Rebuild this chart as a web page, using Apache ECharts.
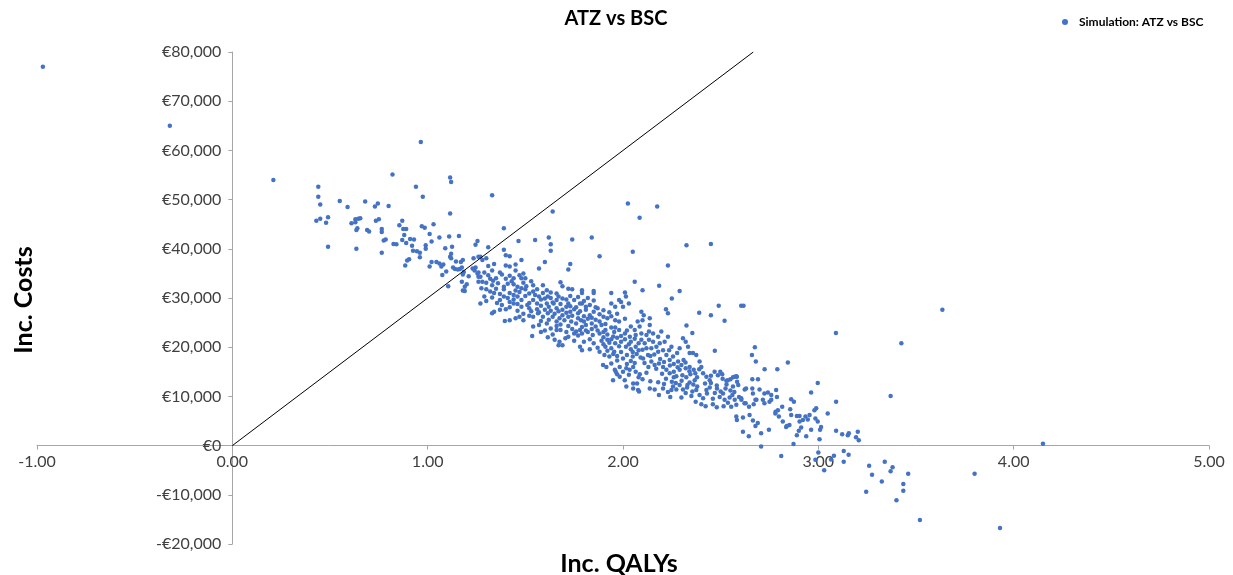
<!DOCTYPE html>
<html>
<head>
<meta charset="utf-8">
<title>ATZ vs BSC</title>
<script src="https://cdn.jsdelivr.net/npm/echarts@6/dist/echarts.min.js"></script>
<style>
  html, body { margin: 0; padding: 0; background: #fff; }
  #chart { width: 1233px; height: 575px; }
</style>
</head>
<body>
<div id="chart"></div>
<script>
// simulation points: [inc. QALYs, inc. costs in thousand euro]
var farLeft = [[-0.97, 77.0], [-0.32, 65.0], [0.21, 54.0]];

var leftCloud = [
  [0.44, 52.6], [0.44, 50.6], [0.45, 49.0], [0.43, 45.7], [0.45, 46.1], [0.48, 45.3], [0.49, 46.4], [0.49, 40.4],
  [0.55, 49.7], [0.59, 48.5], [0.61, 45.2], [0.63, 46.0], [0.645, 46.1], [0.655, 46.2], [0.63, 45.4], [0.64, 44.2],
  [0.635, 43.8], [0.68, 49.6], [0.69, 43.8], [0.70, 43.5], [0.73, 48.6], [0.745, 49.2], [0.735, 45.7], [0.75, 46.0],
  [0.765, 44.0], [0.765, 43.4], [0.635, 40.0], [0.765, 39.2], [0.775, 41.7], [0.785, 41.9], [0.80, 48.7], [0.82, 55.1],
  [0.825, 41.0], [0.84, 40.9], [0.855, 44.8], [0.87, 45.7], [0.875, 44.0], [0.89, 44.0], [0.87, 41.8], [0.88, 42.8],
  [0.91, 42.0], [0.93, 41.9], [0.89, 41.2], [0.92, 40.6], [0.925, 39.6], [0.945, 39.5], [0.905, 37.9], [0.895, 37.6],
  [0.885, 36.6], [0.96, 39.2], [0.96, 38.3], [0.99, 40.0], [0.94, 52.6], [0.97, 44.6], [0.985, 44.3], [0.965, 61.7],
  [0.975, 50.6], [1.03, 45.0], [1.01, 43.0], [1.02, 41.5], [0.99, 40.7], [1.06, 42.3], [1.11, 42.5], [1.16, 42.6],
  [1.125, 40.4], [1.09, 40.1], [1.01, 36.4], [1.02, 37.3], [1.045, 37.3], [1.07, 36.4], [1.06, 37.0], [1.08, 36.8],
  [1.075, 34.7], [1.095, 35.4], [1.115, 38.4], [1.12, 39.0], [1.12, 38.1], [1.145, 37.4], [1.13, 36.2], [1.14, 35.9],
  [1.155, 35.8], [1.165, 35.9], [1.175, 36.2], [1.17, 37.3], [1.18, 37.7], [1.185, 35.3], [1.18, 34.8], [1.19, 32.3],
  [1.19, 31.4], [1.175, 33.3], [1.105, 32.4], [1.20, 32.8], [1.21, 34.4], [1.235, 38.1], [1.245, 40.8], [1.255, 41.6],
  [1.26, 38.4], [1.115, 54.5], [1.12, 53.6], [1.115, 47.2], [1.33, 50.9], [1.64, 47.6], [1.18, 31.5], [1.23, 36.0],
  [1.245, 36.2], [1.24, 35.6], [1.255, 35.0], [1.26, 35.2], [1.26, 34.3], [1.26, 33.3], [1.39, 44.2], [1.465, 41.6],
  [1.55, 41.8], [1.62, 42.3], [1.74, 41.9], [1.31, 40.3], [1.39, 39.8], [1.63, 40.9]
];

var midCloud = [
  [1.40, 38.7], [1.42, 38.5], [1.63, 39.6], [1.88, 38.5], [2.05, 39.4], [1.48, 37.7], [1.40, 36.6], [1.42, 36.4],
  [1.45, 36.8], [1.60, 37.3], [1.57, 36.0], [1.73, 36.9], [1.72, 35.8], [1.30, 38.1], [1.28, 37.7], [1.27, 38.4],
  [1.33, 35.6], [1.37, 35.2], [1.45, 35.6], [1.49, 35.0], [1.48, 34.0], [1.44, 34.0], [1.42, 34.5], [1.40, 33.9],
  [1.28, 33.3], [1.30, 33.1], [1.335, 33.5], [1.35, 34.0], [1.32, 33.9], [1.27, 34.3], [1.39, 32.3], [1.39, 31.8],
  [1.44, 32.8], [1.46, 32.3], [1.49, 33.1], [1.505, 32.4], [1.54, 32.6], [1.59, 32.6], [1.68, 33.2], [1.69, 32.4],
  [1.72, 31.9], [1.74, 31.8], [1.79, 31.6], [1.79, 31.0], [1.85, 31.4], [1.85, 31.0], [1.94, 31.0], [2.01, 31.1],
  [2.015, 30.3], [2.06, 33.3], [2.03, 28.9], [1.98, 29.6], [1.99, 29.2], [1.96, 28.2], [2.0, 28.2], [1.94, 28.9],
  [1.85, 29.5], [1.87, 27.9], [1.83, 28.6], [1.79, 28.9], [1.78, 28.9], [1.75, 29.6], [1.71, 29.7], [1.72, 28.9],
  [1.67, 30.3], [1.66, 29.6], [1.645, 28.9], [1.63, 31.1], [1.615, 30.3], [1.59, 31.0], [1.57, 30.3], [1.54, 31.3],
  [1.54, 29.6], [1.52, 29.0], [1.50, 30.4], [1.48, 29.6], [1.46, 30.3], [1.44, 30.6], [1.42, 31.0], [1.41, 30.0],
  [1.39, 30.3], [1.37, 29.6], [1.355, 29.0], [1.34, 31.0], [1.32, 31.3], [1.30, 31.8], [1.275, 32.0], [1.27, 28.9],
  [1.29, 30.3], [1.44, 28.9], [1.46, 28.8], [1.48, 28.2], [1.42, 28.1], [1.40, 27.7], [1.37, 27.6], [1.34, 27.2],
  [1.33, 26.9], [1.52, 27.9], [1.56, 27.7], [1.58, 28.4], [1.61, 28.9], [1.62, 28.2], [1.66, 27.9], [1.69, 27.6],
  [1.71, 28.2], [1.73, 27.2], [1.75, 27.7], [1.77, 26.9], [1.81, 27.6], [1.83, 26.5], [1.85, 27.2], [1.88, 26.7],
  [1.90, 26.2], [1.92, 25.9], [1.94, 26.3], [1.96, 25.5], [1.98, 25.2], [2.01, 25.8], [2.04, 24.2], [2.06, 23.5],
  [2.075, 25.2], [1.49, 25.5], [1.47, 26.2], [1.45, 25.9], [1.42, 25.5], [1.395, 25.3], [1.54, 26.2], [1.565, 26.9],
  [1.59, 26.2], [1.615, 26.9], [1.64, 26.2], [1.66, 25.2], [1.675, 25.9], [1.70, 25.5], [1.72, 26.2], [1.735, 25.2],
  [1.76, 24.8], [1.785, 25.5], [1.80, 25.2], [1.81, 24.5], [1.84, 24.8], [1.86, 24.2], [1.89, 24.5], [1.91, 23.5],
  [1.94, 24.0], [1.955, 23.1], [1.98, 23.5], [2.01, 22.8], [2.035, 22.1], [2.065, 22.5], [1.54, 24.2], [1.57, 24.5],
  [1.61, 24.8], [1.63, 23.8], [1.66, 23.5], [1.68, 23.5], [1.71, 23.1], [1.72, 22.1], [1.75, 22.8], [1.78, 23.5],
  [1.79, 22.8], [1.82, 23.1], [1.845, 22.5], [1.88, 22.8], [1.90, 22.0], [1.92, 21.5], [1.94, 21.6], [1.96, 20.8],
  [1.99, 21.1], [2.015, 20.1], [2.04, 19.6], [2.065, 20.1], [2.08, 19.4], [1.535, 22.3], [1.58, 23.1], [1.615, 22.0],
  [1.65, 21.5], [1.675, 21.1], [1.705, 21.8], [1.67, 20.4], [1.69, 20.4], [1.78, 20.1], [1.79, 19.4], [1.83, 19.6],
  [1.85, 20.8], [1.88, 19.1], [1.905, 18.4], [1.93, 18.1], [1.955, 19.1], [1.97, 18.2], [2.0, 17.7], [2.02, 18.4],
  [2.05, 18.1], [1.94, 19.8], [1.91, 20.1], [1.90, 20.6]
];

var centreCloud = [
  [2.49, 28.4], [2.605, 28.4], [2.617, 28.4], [2.39, 27.0], [2.45, 26.5], [2.52, 25.4], [2.22, 27.7], [2.23, 26.9],
  [2.325, 24.4], [2.355, 22.9], [2.47, 19.3], [2.675, 20.0], [2.66, 18.4], [2.68, 17.1], [2.137, 24.5], [2.133, 23.2],
  [2.10, 25.5], [2.085, 24.2], [2.23, 22.1], [2.213, 21.1], [2.188, 20.8], [2.171, 20.1], [2.154, 21.1], [2.145, 19.8],
  [2.18, 19.1], [2.307, 21.8], [2.321, 21.1], [2.333, 20.1], [2.341, 18.8], [2.358, 18.8], [2.375, 18.4], [2.29, 19.8],
  [2.277, 18.8], [2.256, 18.1], [2.239, 17.4], [2.282, 17.1], [2.299, 16.4], [2.321, 15.7], [2.341, 16.0], [2.362, 15.4],
  [2.392, 17.1], [2.401, 16.0], [2.41, 14.7], [2.103, 17.7], [2.128, 18.4], [2.145, 17.1], [2.162, 16.4], [2.184, 16.7],
  [2.205, 16.0], [2.222, 15.4], [2.239, 14.7], [2.26, 15.0], [2.273, 14.1], [2.29, 15.4], [2.304, 14.3], [2.324, 13.9],
  [2.345, 14.5], [2.367, 13.3], [2.379, 13.9], [2.427, 14.0], [2.444, 13.3], [2.469, 15.0], [2.486, 14.3], [2.508, 14.5],
  [2.529, 13.2], [2.55, 13.5], [2.563, 13.9], [2.58, 14.1], [2.584, 13.0], [2.662, 13.5], [2.691, 13.5], [2.052, 16.0],
  [2.065, 15.0], [2.086, 14.5], [2.072, 12.6], [2.082, 11.0], [2.052, 12.6], [1.963, 15.0], [1.97, 14.5], [2.137, 11.6],
  [2.162, 11.4], [2.184, 10.3], [2.205, 11.6], [2.23, 10.9], [2.248, 11.3], [2.256, 12.0], [2.273, 11.4], [2.29, 12.3],
  [2.307, 11.4], [2.328, 11.8], [2.341, 12.8], [2.355, 11.0], [2.242, 9.9], [2.299, 9.8], [2.321, 10.7], [2.375, 11.3],
  [2.392, 10.3], [2.41, 9.6], [2.427, 11.3], [2.444, 11.8], [2.47, 10.7], [2.481, 11.6], [2.495, 9.9], [2.512, 10.6],
  [2.525, 11.6], [2.546, 9.8], [2.56, 10.3], [2.572, 9.3], [2.594, 9.9], [2.372, 8.9], [2.401, 8.4], [2.423, 8.0],
  [2.46, 8.4], [2.515, 8.0], [2.537, 8.7], [2.554, 7.9], [2.606, 9.3], [2.628, 8.6], [2.645, 7.9], [2.669, 8.4],
  [2.683, 9.3], [2.623, 11.4], [2.662, 11.6], [2.12, 22.5], [2.154, 22.8], [2.18, 22.1], [2.196, 23.2], [2.094, 21.5],
  [2.111, 20.8], [2.133, 21.5], [2.205, 19.4], [2.236, 19.4], [2.248, 20.1], [2.222, 18.4], [2.094, 27.2], [2.106, 26.5],
  [2.137, 25.9], [2.094, 22.8], [1.898, 16.4], [1.915, 16.0], [1.94, 16.7], [1.958, 15.4], [1.983, 16.0], [2.0, 15.0],
  [2.017, 15.7], [2.034, 15.4], [1.983, 14.0], [2.009, 13.3], [1.949, 13.3], [2.052, 11.6], [2.077, 11.3], [2.017, 12.0]
];

// extra points in the densest part of the band, where marks overlap
var denseBand = [
  [1.29, 35.2], [1.31, 34.6], [1.33, 32.6], [1.35, 31.9], [1.36, 33.0], [1.38, 34.8], [1.31, 36.5], [1.34, 36.9],
  [1.37, 30.8], [1.30, 29.4], [1.38, 28.6], [1.33, 30.1], [1.41, 32.9], [1.43, 33.4], [1.45, 31.5], [1.47, 31.2],
  [1.48, 32.0], [1.50, 31.8], [1.52, 30.9], [1.53, 33.4], [1.44, 29.7], [1.46, 27.4], [1.51, 28.6], [1.53, 27.3],
  [1.47, 34.6], [1.50, 34.0], [1.42, 29.2], [1.55, 30.6], [1.49, 26.8], [1.52, 26.4], [1.56, 31.8], [1.58, 29.7],
  [1.60, 29.9], [1.61, 31.6], [1.63, 30.0], [1.64, 29.1], [1.66, 30.9], [1.68, 28.8], [1.69, 29.9], [1.57, 27.1],
  [1.60, 27.6], [1.62, 25.6], [1.65, 26.8], [1.67, 27.3], [1.69, 26.5], [1.58, 25.3], [1.63, 27.4], [1.56, 28.9],
  [1.68, 24.6], [1.60, 23.4], [1.64, 22.6], [1.66, 24.3], [1.71, 27.0], [1.73, 28.3], [1.74, 26.4], [1.76, 28.1],
  [1.77, 25.9], [1.78, 27.3], [1.80, 26.3], [1.81, 28.2], [1.82, 25.8], [1.84, 26.0], [1.72, 24.3], [1.74, 23.7],
  [1.76, 23.2], [1.77, 22.4], [1.79, 24.1], [1.81, 23.4], [1.83, 21.6], [1.84, 23.7], [1.73, 30.4], [1.77, 30.2],
  [1.80, 29.4], [1.82, 30.0], [1.75, 21.3], [1.80, 21.1], [1.86, 25.6], [1.87, 23.4], [1.88, 25.2], [1.89, 21.3],
  [1.90, 23.1], [1.91, 24.7], [1.92, 22.6], [1.93, 20.9], [1.95, 22.2], [1.96, 24.0], [1.97, 21.9], [1.98, 20.2],
  [1.99, 22.3], [1.87, 19.9], [1.92, 19.3], [1.95, 18.6], [1.97, 17.3], [1.99, 19.0], [1.86, 28.1], [1.90, 27.5],
  [1.93, 27.1], [1.97, 26.8], [2.01, 21.6], [2.02, 23.4], [2.03, 20.6], [2.04, 21.1], [2.05, 19.0], [2.06, 21.7],
  [2.07, 18.6], [2.08, 20.8], [2.09, 17.9], [2.10, 19.5], [2.11, 16.8], [2.12, 19.8], [2.13, 16.0], [2.14, 18.2],
  [2.02, 16.6], [2.04, 17.2], [2.06, 16.8], [2.08, 13.9], [2.10, 13.5], [2.12, 14.8], [2.14, 13.1], [2.03, 14.4],
  [2.16, 18.5], [2.17, 15.6], [2.19, 17.6], [2.20, 14.6], [2.21, 17.0], [2.22, 13.6], [2.24, 16.3], [2.25, 13.0],
  [2.26, 16.6], [2.27, 12.7], [2.28, 15.9], [2.30, 13.2], [2.31, 17.4], [2.33, 12.3], [2.34, 15.1], [2.36, 12.4],
  [2.37, 14.7], [2.38, 12.0], [2.39, 15.5], [2.18, 12.9], [2.21, 12.5], [2.26, 13.9], [2.32, 16.9], [2.35, 10.1],
  [2.42, 12.6], [2.43, 10.6], [2.45, 12.7], [2.46, 9.5], [2.48, 12.2], [2.50, 11.0], [2.52, 9.3], [2.53, 12.4],
  [2.55, 11.2], [2.57, 10.9], [2.59, 12.3], [2.45, 14.2], [2.51, 13.6], [2.48, 7.8], [2.58, 8.3]
];

var lowerCloud = [
  [2.725, 15.5], [2.79, 15.5], [2.844, 16.9], [2.699, 11.4], [2.724, 10.6], [2.742, 10.8], [2.759, 10.3], [2.716, 9.3],
  [2.75, 8.9], [2.724, 8.6], [2.759, 9.3], [2.784, 11.3], [2.788, 9.9], [2.781, 6.9], [2.793, 7.2], [2.815, 7.9],
  [2.78, 6.5], [2.798, 5.9], [2.818, 4.9], [2.835, 3.8], [2.852, 4.2], [2.861, 9.4], [2.875, 8.9], [2.856, 7.4],
  [2.861, 6.2], [2.89, 6.0], [2.904, 6.0], [2.904, 4.9], [2.921, 5.2], [2.934, 5.9], [2.946, 5.3], [2.955, 6.2],
  [2.963, 10.8], [2.997, 12.7], [2.98, 7.2], [2.989, 7.6], [2.985, 5.5], [2.997, 4.9], [3.014, 3.8], [3.009, 3.2],
  [3.006, 1.3], [3.048, 6.5], [3.091, 8.9], [3.091, 3.0], [3.122, 2.3], [3.151, 2.1], [3.156, 2.5], [3.193, 1.7],
  [3.207, 1.1], [3.202, 2.8], [2.644, 1.9], [2.614, 2.8], [2.707, 2.5], [2.747, 3.2], [2.839, 4.0], [2.89, 2.1],
  [2.9, 3.0], [2.912, 3.7], [2.938, 1.9], [2.963, 3.2], [2.873, 0.3], [2.707, -0.2], [2.678, 4.0], [2.648, 6.2],
  [2.665, 5.1], [2.69, 4.6], [2.614, 5.7], [2.58, 5.9], [2.583, 5.2], [2.498, 15.0], [2.537, 13.3], [2.571, 14.0],
  [2.583, 14.0], [2.563, 12.0], [2.605, 9.6], [2.63, 11.6], [2.665, 10.6], [2.678, 9.3], [2.622, 8.6]
];

var upperOutliers = [
  [2.025, 49.2], [2.175, 48.6], [2.085, 46.3], [1.84, 42.3], [2.325, 40.7], [2.45, 41.0], [2.23, 36.6], [2.10, 31.6],
  [2.185, 32.5], [2.29, 31.4], [2.25, 29.9], [3.09, 22.9], [3.425, 20.8], [3.635, 27.6], [3.37, 10.1]
];

var belowZero = [
  [4.15, 0.4], [3.80, -5.7], [3.93, -16.75], [3.52, -15.1], [3.40, -11.1], [3.245, -9.4], [3.325, -7.3], [3.435, -7.8],
  [3.435, -9.2], [3.46, -5.7], [3.38, -4.4], [3.37, -5.2], [3.34, -3.3], [3.26, -4.1], [3.275, -5.9], [3.13, -3.3],
  [3.155, -1.85], [3.13, -1.1], [3.08, -2.05], [3.065, -2.8], [3.03, -5.0], [2.985, -2.9], [3.0, -1.4], [2.81, -2.1]
];

// willingness-to-pay line, 30,000 per QALY, drawn up to the top of the axis
var wtpLine = [[0, 0], [2.667, 80000]];

var xTicks = [-1, 0, 1, 2, 3, 4, 5];
var yTicks = [-20000, -10000, 0, 10000, 20000, 30000, 40000, 50000, 60000, 70000, 80000];

var points = [].concat(farLeft, leftCloud, midCloud, centreCloud, denseBand, lowerCloud, upperOutliers, belowZero)
  .map(function (p) { return [p[0], p[1] * 1000]; });

var font = 'Lato, "Open Sans", sans-serif';
var axisGrey = '#a6a6a6';

var W = 1233, H = 575;
var grid = { left: 37, right: 24, top: 52, bottom: 31 };
var xMin = xTicks[0], xMax = xTicks[xTicks.length - 1];
var yMin = yTicks[0], yMax = yTicks[yTicks.length - 1];
// axes cross at zero: shift them inward from the grid edges
var plotW = W - grid.left - grid.right;
var plotH = H - grid.top - grid.bottom;
var yAxisShift = -(0 - xMin) / (xMax - xMin) * plotW;
var xAxisShift = -(0 - yMin) / (yMax - yMin) * plotH;

var chart = echarts.init(document.getElementById('chart'));
var option = {
  animation: false,
  textStyle: { fontFamily: font },
  title: {
    text: 'ATZ vs BSC',
    left: 611,
    top: 4,
    textAlign: 'center',
    textStyle: { fontSize: 20, fontWeight: 'bold', color: '#000', fontFamily: font }
  },
  legend: {
    data: ['Simulation: ATZ vs BSC'],
    left: 1057,
    top: 11,
    itemWidth: 6,
    itemHeight: 6,
    textStyle: { fontSize: 12, fontWeight: 'bold', color: '#000', padding: [0, 0, 0, 6] }
  },
  grid: {
    left: grid.left, right: grid.right, top: grid.top, bottom: grid.bottom,
    containLabel: false,
    outerBoundsMode: 'none'
  },
  xAxis: {
    type: 'value',
    min: xMin,
    max: xMax,
    interval: 1,
    offset: xAxisShift,
    axisLine: { onZero: false, lineStyle: { color: axisGrey, width: 1 } },
    axisTick: { show: true, length: 4, lineStyle: { color: axisGrey } },
    axisLabel: {
      margin: 8,
      fontSize: 16,
      color: '#404040',
      formatter: function (v) { return v.toFixed(2); }
    },
    splitLine: { show: false }
  },
  yAxis: {
    type: 'value',
    min: yMin,
    max: yMax,
    interval: 10000,
    offset: yAxisShift,
    axisLine: { onZero: false, lineStyle: { color: axisGrey, width: 1 } },
    axisTick: { show: true, length: 4, lineStyle: { color: axisGrey } },
    axisLabel: {
      margin: 11,
      fontSize: 16,
      color: '#404040',
      formatter: function (v) {
        return (v < 0 ? '-' : '') + '€' + Math.abs(v).toLocaleString('en-US');
      }
    },
    splitLine: { show: false }
  },
  graphic: [
    {
      type: 'text',
      x: 24,
      y: 300,
      rotation: Math.PI / 2,
      style: {
        text: 'Inc. Costs',
        font: 'bold 25px ' + font,
        fill: '#000',
        align: 'center',
        verticalAlign: 'middle'
      }
    },
    {
      type: 'text',
      x: 619,
      y: 564,
      style: {
        text: 'Inc. QALYs',
        font: 'bold 25px ' + font,
        fill: '#000',
        align: 'center',
        verticalAlign: 'middle'
      }
    }
  ],
  series: [
    {
      name: 'Simulation: ATZ vs BSC',
      type: 'scatter',
      data: points,
      symbol: 'circle',
      symbolSize: 4.5,
      itemStyle: { color: '#4472c4', opacity: 1 },
      z: 2
    },
    {
      name: 'WTP',
      type: 'line',
      data: wtpLine,
      symbol: 'none',
      silent: true,
      lineStyle: { color: '#000', width: 1 },
      z: 3
    }
  ]
};
chart.setOption(option);
</script>
</body>
</html>
